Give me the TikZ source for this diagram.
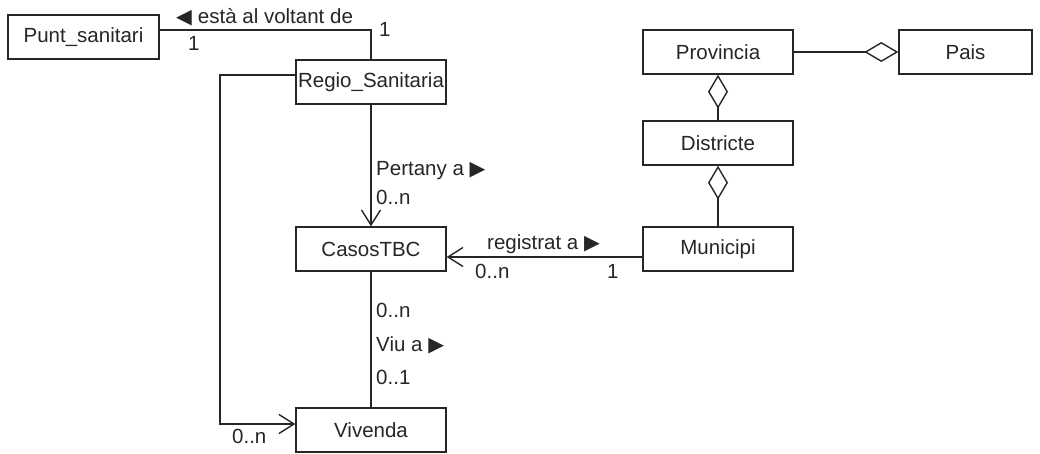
\documentclass[tikz,border=0pt]{standalone}
\usepackage{fontspec}
\setmainfont{Liberation Sans}
\newfontfamily\symf{DejaVu Sans}
\usetikzlibrary{arrows.meta,positioning}
\definecolor{ink}{HTML}{262626}
\newcommand{\lft}{{\symf\char"25C0}}
\newcommand{\rgt}{{\symf\char"25B6}}
\begin{document}
\begin{tikzpicture}[x=1pt,y=-1pt,
  font=\fontsize{20.5}{24}\selectfont, text=ink,
  cls/.style={draw=ink, line width=1.4pt, minimum width=150pt, minimum height=44pt, inner sep=0pt, fill=white},
  lab/.style={inner sep=0pt, anchor=west},
  conn/.style={draw=ink, line width=1.4pt},
  nav/.style={conn, -{Straight Barb[length=15pt,width=19pt,line width=1.4pt]}},
  agg/.style={conn, -{Diamond[open,length=34pt,width=20pt,line width=1.4pt]}}]
\useasboundingbox (0,0) rectangle (1040,454);

\node[cls, minimum width=151pt] (punt) at (83.5,37) {Punt\_sanitari};
\node[cls] (regio) at (371,82) {Regio\_Sanitaria};
\node[cls] (casos) at (371,249) {CasosTBC};
\node[cls] (viv) at (371,430) {Vivenda};
\node[cls] (prov) at (718,52) {Provincia};
\node[cls, minimum width=133pt] (pais) at (965.5,52) {Pais};
\node[cls] (dist) at (718,143) {Districte};
\node[cls] (muni) at (718,249) {Municipi};

% Punt_sanitari -- Regio_Sanitaria
\draw[conn] ([yshift=7pt]punt.east) -| (regio.north);
\node[lab] (l1) at (176,17) {\lft\kern6pt està al voltant de};
\node[lab] (m1) at (188,43) {1};
\node[lab] (m2) at (379,29) {1};

% Regio -> CasosTBC
\draw[nav] (regio.south) -- (casos.north);
\node[lab] (l2) at (376,171) {Pertany a \rgt};
\node[lab] (m3) at (376,197) {0..n};

% Municipi -> CasosTBC
\coordinate (mw) at ([yshift=-8pt]muni.west);
\draw[nav] (mw) -- (mw -| casos.east);
\node[lab] (l3) at (487,244) {registrat a \rgt};
\node[lab] (m4) at (475,271) {0..n};
\node[lab] (m5) at (607,271) {1};

% CasosTBC -- Vivenda
\draw[conn] (casos.south) -- (viv.north);
\node[lab] (m6) at (376,310) {0..n};
\node[lab] (l4) at (376,345) {Viu a \rgt};
\node[lab] (m7) at (376,377) {0..1};

% Regio -> Vivenda
\coordinate (bend) at (220,75);
\draw[nav] ([yshift=7pt]regio.west) -- (bend) |- ([yshift=6pt]viv.west);
\node[lab] (m8) at (232,436) {0..n};

% aggregations
\draw[agg] (prov.east) -- (pais.west);
\draw[agg] (dist.north) -- (prov.south);
\draw[agg] (muni.north) -- (dist.south);
\end{tikzpicture}
\end{document}
